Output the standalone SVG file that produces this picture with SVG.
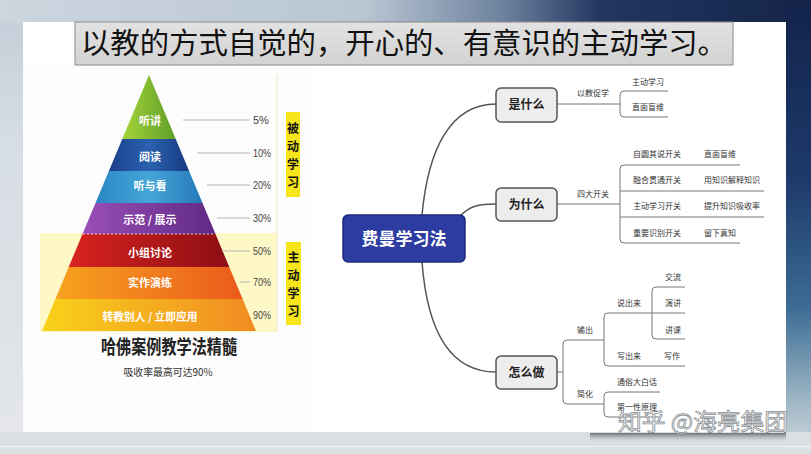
<svg xmlns="http://www.w3.org/2000/svg" width="811" height="454" viewBox="0 0 811 454">
<defs>
<linearGradient id="bgTop" x1="0" y1="0" x2="1" y2="0">
<stop offset="0" stop-color="#cdd6df"/><stop offset="0.45" stop-color="#b9c6d3"/><stop offset="0.62" stop-color="#6e829f"/><stop offset="0.74" stop-color="#233660"/><stop offset="1" stop-color="#142449"/>
</linearGradient>
<linearGradient id="bgRight" x1="0" y1="0" x2="0" y2="1">
<stop offset="0" stop-color="#13234a"/><stop offset="0.4" stop-color="#1d3a6c"/><stop offset="0.68" stop-color="#3d6c95"/><stop offset="0.88" stop-color="#9db6c4"/><stop offset="1" stop-color="#d2d9de"/>
</linearGradient>
<linearGradient id="bgLeft" x1="0" y1="0" x2="0" y2="1">
<stop offset="0" stop-color="#c6d0da"/><stop offset="0.3" stop-color="#d6dde4"/><stop offset="1" stop-color="#e4e6e9"/>
</linearGradient>
<linearGradient id="shadow" x1="0" y1="0" x2="0" y2="1">
<stop offset="0" stop-color="#6b6f75"/><stop offset="1" stop-color="#dcdfe2" stop-opacity="0"/>
</linearGradient>
<linearGradient id="gGreen" x1="0" y1="0" x2="1" y2="0"><stop offset="0" stop-color="#a6d43a"/><stop offset="1" stop-color="#5e9e28"/></linearGradient>
<linearGradient id="gBlue" x1="0" y1="0" x2="1" y2="0"><stop offset="0" stop-color="#1c3f8c"/><stop offset="0.5" stop-color="#2a62b0"/><stop offset="1" stop-color="#173a80"/></linearGradient>
<linearGradient id="gSky" x1="0" y1="0" x2="1" y2="0"><stop offset="0" stop-color="#2a86c4"/><stop offset="0.5" stop-color="#45a6d8"/><stop offset="1" stop-color="#2579b8"/></linearGradient>
<linearGradient id="gPurple" x1="0" y1="0" x2="1" y2="0"><stop offset="0" stop-color="#9a4fb6"/><stop offset="1" stop-color="#5f2a86"/></linearGradient>
<linearGradient id="gRed" x1="0" y1="0" x2="1" y2="0"><stop offset="0" stop-color="#d8231f"/><stop offset="1" stop-color="#8c0e14"/></linearGradient>
<linearGradient id="gOrange" x1="0" y1="0" x2="1" y2="0"><stop offset="0" stop-color="#f7a21e"/><stop offset="1" stop-color="#ea5b1c"/></linearGradient>
<linearGradient id="gYellow" x1="0" y1="0" x2="1" y2="0"><stop offset="0" stop-color="#f8d21a"/><stop offset="1" stop-color="#f18a22"/></linearGradient>
<linearGradient id="gTitle" x1="0" y1="0" x2="0" y2="1"><stop offset="0" stop-color="#e2e2e2"/><stop offset="1" stop-color="#d2d2d2"/></linearGradient>
</defs>
<style>
.cjk{font-family:"Noto Sans CJK SC","Noto Sans",sans-serif}
.lvl{font-family:"Noto Sans CJK SC",sans-serif;font-size:11px;font-weight:bold;fill:#fff;text-anchor:middle}
.pct{font-family:"Liberation Sans","Noto Sans CJK SC",sans-serif;font-size:11px;fill:#444}
.pline{stroke:#b5b5b5;stroke-width:1;fill:none}
.vert{font-family:"Noto Sans CJK SC",sans-serif;font-size:12px;font-weight:bold;fill:#111;text-anchor:middle}
.conn{stroke:#555;stroke-width:1.5;fill:none}
.br{stroke:#777;stroke-width:1;fill:none}
.sub{fill:#ededed;stroke:#555;stroke-width:1.5}
.subt{font-family:"Noto Sans CJK SC",sans-serif;font-size:12px;font-weight:bold;fill:#222;text-anchor:middle}
.lf{font-family:"Noto Sans CJK SC",sans-serif;font-size:8px;fill:#333}
</style>
<!-- background -->
<rect x="0" y="0" width="811" height="454" fill="#e3e5e8"/>
<rect x="0" y="0" width="811" height="23" fill="url(#bgTop)"/>
<rect x="0" y="23" width="23" height="410" fill="url(#bgLeft)"/>
<rect x="786" y="0" width="25" height="454" fill="url(#bgRight)"/>
<rect x="0" y="432" width="811" height="22" fill="#dcdfe2"/>
<rect x="0" y="446" width="811" height="1" fill="#f2f3f4"/>
<rect x="590" y="433" width="196" height="10" fill="url(#shadow)"/>
<!-- white panel -->
<rect x="23" y="22" width="763" height="410" fill="#ffffff"/>
<rect x="23" y="62" width="292" height="370" fill="#fdfdfd"/>
<!-- title -->
<g id="title">
<rect x="75" y="22" width="658" height="43" fill="url(#gTitle)" stroke="#8a8a8a" stroke-width="1"/>
<text x="404" y="54" class="cjk" font-size="29" fill="#111" text-anchor="middle" textLength="646" lengthAdjust="spacingAndGlyphs">以教的方式自觉的，开心的、有意识的主动学习。</text>
</g>
<!-- pyramid -->
<g id="pyramid">
<rect x="40" y="233" width="237" height="99" fill="#fdf8c6"/>
<line x1="277" y1="75" x2="277" y2="332" stroke="#ece9c8" stroke-width="1"/>
<g id="lvl1"><polygon points="149,75 175.75,139 122.25,139" fill="url(#gGreen)"/><text x="150" y="125" class="lvl">听讲</text></g>
<g id="lvl2"><polygon points="122.25,139 175.75,139 189.1,171 108.9,171" fill="url(#gBlue)"/><text x="150" y="161" class="lvl">阅读</text></g>
<g id="lvl3"><polygon points="108.9,171 189.1,171 202.5,203 95.5,203" fill="url(#gSky)"/><text x="150" y="190" class="lvl">听与看</text></g>
<g id="lvl4"><polygon points="95.5,203 202.5,203 215.5,234 82.5,234" fill="url(#gPurple)"/><text x="150" y="224" class="lvl">示范 / 展示</text></g>
<g id="lvl5"><polygon points="82.5,234 215.5,234 229.3,267 68.7,267" fill="url(#gRed)"/><text x="150" y="257" class="lvl">小组讨论</text></g>
<g id="lvl6"><polygon points="68.7,267 229.3,267 242.6,299 55.4,299" fill="url(#gOrange)"/><text x="150" y="287" class="lvl">实作演练</text></g>
<g id="lvl7"><polygon points="55.4,299 242.6,299 256,331 42,331" fill="url(#gYellow)"/><text x="150" y="321" class="lvl" textLength="95" lengthAdjust="spacingAndGlyphs">转教别人 / 立即应用</text></g>
<line x1="83" y1="234" x2="215" y2="234" stroke="#fff" stroke-width="1" stroke-dasharray="2,2" opacity="0.8"/>
<path class="pline" d="M183,120 H250 M197,153 H250 M207,185 H250 M217,218 H250 M222,251 H250 M240,282 H250"/>
<text class="pct" x="253" y="124">5%</text>
<text class="pct" x="253" y="157" textLength="18" lengthAdjust="spacingAndGlyphs">10%</text>
<text class="pct" x="253" y="189" textLength="18" lengthAdjust="spacingAndGlyphs">20%</text>
<text class="pct" x="253" y="222" textLength="18" lengthAdjust="spacingAndGlyphs">30%</text>
<text class="pct" x="253" y="255" textLength="18" lengthAdjust="spacingAndGlyphs">50%</text>
<text class="pct" x="253" y="286" textLength="18" lengthAdjust="spacingAndGlyphs">70%</text>
<text class="pct" x="253" y="319" textLength="18" lengthAdjust="spacingAndGlyphs">90%</text>
<g id="passive">
<rect x="286" y="112" width="14" height="85" fill="#f7e51c"/>
<text class="vert" x="293" y="133">被</text>
<text class="vert" x="293" y="151">动</text>
<text class="vert" x="293" y="169">学</text>
<text class="vert" x="293" y="187">习</text>
</g>
<g id="active">
<rect x="286" y="242" width="15" height="83" fill="#f7e51c"/>
<text class="vert" x="293.5" y="262">主</text>
<text class="vert" x="293.5" y="280">动</text>
<text class="vert" x="293.5" y="298">学</text>
<text class="vert" x="293.5" y="316">习</text>
</g>
<text x="169" y="354" class="cjk" font-size="19" font-weight="bold" fill="#222" text-anchor="middle" textLength="136" lengthAdjust="spacingAndGlyphs">哈佛案例教学法精髓</text>
<text x="168" y="376" class="cjk" font-size="10.5" fill="#333" text-anchor="middle" textLength="89" lengthAdjust="spacingAndGlyphs">吸收率最高可达90%</text>
</g>
<!-- mind map connectors -->
<g id="connectors">
<path class="conn" d="M422,215 C428,150 450,104 496,104"/>
<path class="conn" d="M460,216 C470,206 478,204 496,204"/>
<path class="conn" d="M422,262 C428,340 455,372 496,372"/>
<path class="br" d="M557,104 H620 M668,91 H624 Q620,91 620,95 V113 Q620,117 624,117 H668"/>
<path class="br" d="M557,204 H620 M740,165 H624 Q620,165 620,169 V239 Q620,243 624,243 H740 M620,191 H764 M620,217 H764"/>
<path class="br" d="M557,372 H563 M604,340 H567 Q563,340 563,344 V400 Q563,404 567,404 H604"/>
<path class="br" d="M685,313 H608 Q604,313 604,317 V362 Q604,366 608,366 H685"/>
<path class="br" d="M685,287 H656 Q652,287 652,291 V335 Q652,339 656,339 H685"/>
<path class="br" d="M660,392 H608 Q604,392 604,396 V413 Q604,417 608,417 H660"/>
</g>
<g id="root">
<rect x="343" y="215" width="122" height="47" rx="5" fill="#2d3ca0" stroke="#1d2a7a" stroke-width="1.5"/>
<text x="404" y="245" class="cjk" font-size="17" font-weight="bold" fill="#fff" text-anchor="middle">费曼学习法</text>
</g>
<g id="what"><rect class="sub" x="496" y="88" width="61" height="34" rx="5"/><text class="subt" x="526.5" y="109">是什么</text></g>
<g id="why"><rect class="sub" x="496" y="188" width="61" height="33" rx="5"/><text class="subt" x="526.5" y="209">为什么</text></g>
<g id="how"><rect class="sub" x="496" y="356" width="61" height="33" rx="5"/><text class="subt" x="526.5" y="377">怎么做</text></g>
<g id="leaves">
<text class="lf" x="577" y="96">以教促学</text>
<text class="lf" x="632" y="85">主动学习</text>
<text class="lf" x="632" y="110">直面盲维</text>
<text class="lf" x="577" y="197">四大开关</text>
<text class="lf" x="633" y="157">自圆其说开关</text>
<text class="lf" x="704" y="157">直面盲维</text>
<text class="lf" x="633" y="183">融合贯通开关</text>
<text class="lf" x="704" y="183">用知识解释知识</text>
<text class="lf" x="633" y="209">主动学习开关</text>
<text class="lf" x="704" y="209">提升知识吸收率</text>
<text class="lf" x="633" y="236">重要识别开关</text>
<text class="lf" x="704" y="236">留下真知</text>
<text class="lf" x="577" y="333">输出</text>
<text class="lf" x="617" y="306">说出来</text>
<text class="lf" x="665" y="280">交流</text>
<text class="lf" x="665" y="306">演讲</text>
<text class="lf" x="665" y="333">讲课</text>
<text class="lf" x="617" y="359">写出来</text>
<text class="lf" x="664" y="359">写作</text>
<text class="lf" x="577" y="397">简化</text>
<text class="lf" x="617" y="385">通俗大白话</text>
<text class="lf" x="617" y="410">第一性原理</text>
</g>
<text x="618" y="430" class="cjk" font-size="23" fill="#ffffff" fill-opacity="0.85" stroke="#8a8f95" stroke-width="0.8" textLength="170" lengthAdjust="spacingAndGlyphs">知乎 @海亮集团</text>
</svg>
